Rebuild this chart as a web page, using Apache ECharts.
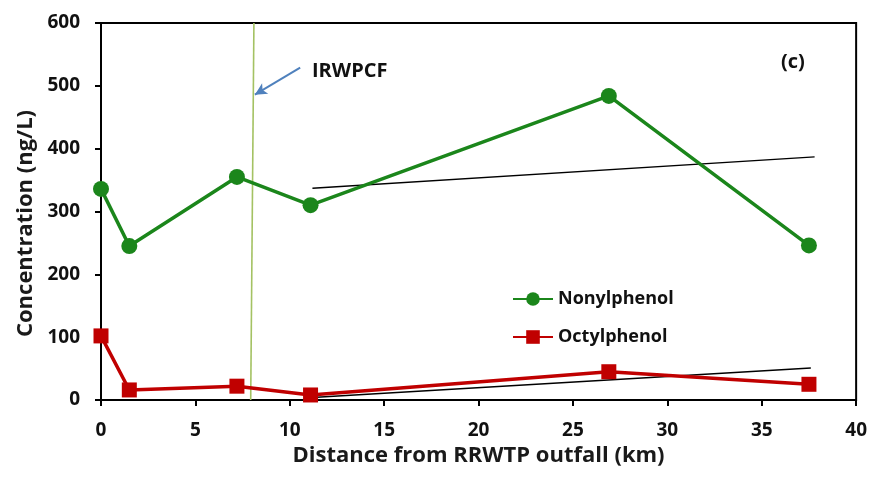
<!DOCTYPE html>
<html><head><meta charset="utf-8">
<script src="https://cdn.jsdelivr.net/npm/echarts@6/dist/echarts.min.js"></script>
<style>html,body{margin:0;padding:0;background:#fff}#c{width:870px;height:477px}</style>
</head><body><div id="c"></div>
<script>
const nonylphenol = [[0,336],[1.5,245],[7.2,355],[11.1,310],[26.9,484],[37.5,246]];
const octylphenol = [[0,102],[1.5,16],[7.2,22],[11.1,8],[26.9,45],[37.5,25]];
const nonylTrend = [[11.2,337],[37.8,387]];
const octylTrend = [[11.2,4],[37.6,51]];
const irwpcfLine = [[8.1,600],[7.93,0]];
const arrowFrom = [10.55,529];
const arrowTo = [8.15,486];
const xTicks = {min:0,max:40,interval:5};
const yTicks = {min:0,max:600,interval:100};
const FONT = '"Open Sans", Lato, sans-serif';

const chart = echarts.init(document.getElementById('c'));
chart.setOption({
  animation:false,
  backgroundColor:'#fff',
  grid:{left:101,right:13,top:23,bottom:77,show:true,borderColor:'#000',borderWidth:2,backgroundColor:'transparent'},
  legend:{
    orient:'vertical',left:507,top:285,itemGap:20,itemWidth:40,itemHeight:17,
    data:['Nonylphenol','Octylphenol'],
    textStyle:{fontFamily:FONT,fontWeight:'bold',fontSize:18,color:'#111'}
  },
  xAxis:{
    type:'value',min:xTicks.min,max:xTicks.max,interval:xTicks.interval,
    name:'Distance from RRWTP outfall (km)',nameLocation:'middle',nameGap:35,
    nameTextStyle:{fontFamily:FONT,fontWeight:'bold',fontSize:22,color:'#1a1a1a'},
    axisLine:{lineStyle:{color:'#000',width:2}},
    axisTick:{show:true,length:6,inside:false,lineStyle:{color:'#000',width:2}},
    axisLabel:{fontFamily:FONT,fontWeight:'bold',fontSize:19,color:'#111',margin:21},
    splitLine:{show:false}
  },
  yAxis:{
    type:'value',min:yTicks.min,max:yTicks.max,interval:yTicks.interval,
    name:'Concentration (ng/L)',nameLocation:'middle',nameGap:60,nameRotate:90,
    nameTextStyle:{fontFamily:FONT,fontWeight:'bold',fontSize:22,color:'#1a1a1a',padding:[0,24,0,0]},
    axisLine:{show:true,lineStyle:{color:'#000',width:2}},
    axisTick:{show:true,length:6,lineStyle:{color:'#000',width:2}},
    axisLabel:{fontFamily:FONT,fontWeight:'bold',fontSize:19,color:'#111',margin:21},
    splitLine:{show:false}
  },
  series:[
    {name:'Nonylphenol',type:'line',data:nonylphenol,symbol:'circle',symbolSize:16,
     lineStyle:{color:'#1b861b',width:3.5},itemStyle:{color:'#1b861b'},z:5},
    {name:'Octylphenol',type:'line',data:octylphenol,symbol:'rect',symbolSize:15,
     lineStyle:{color:'#c00000',width:3.5},itemStyle:{color:'#c00000'},z:5},
    {name:'trend1',type:'line',data:nonylTrend,symbol:'none',lineStyle:{color:'#000',width:1.4},z:3,silent:true},
    {name:'trend2',type:'line',data:octylTrend,symbol:'none',lineStyle:{color:'#000',width:1.4},z:3,silent:true},
    {name:'irwpcf',type:'line',data:irwpcfLine,symbol:'none',lineStyle:{color:'#a4c263',width:1.6},z:2,silent:true,
     markLine:{silent:true,animation:false,label:{show:false},
       lineStyle:{color:'#4f81bd',width:2,type:'solid'},
       symbolSize:[9,12],
       data:[[{coord:arrowFrom,symbol:'none'},{coord:arrowTo,symbol:'arrow'}]]}}
  ],
  graphic:[
    {type:'text',x:312,y:71,style:{text:'IRWPCF',fontFamily:FONT,fontWeight:'bold',fontSize:20,fill:'#111',verticalAlign:'middle'}},
    {type:'text',x:781,y:62,style:{text:'(c)',fontFamily:FONT,fontWeight:'bold',fontSize:20,fill:'#111',verticalAlign:'middle'}}
  ]
});
</script></body></html>
